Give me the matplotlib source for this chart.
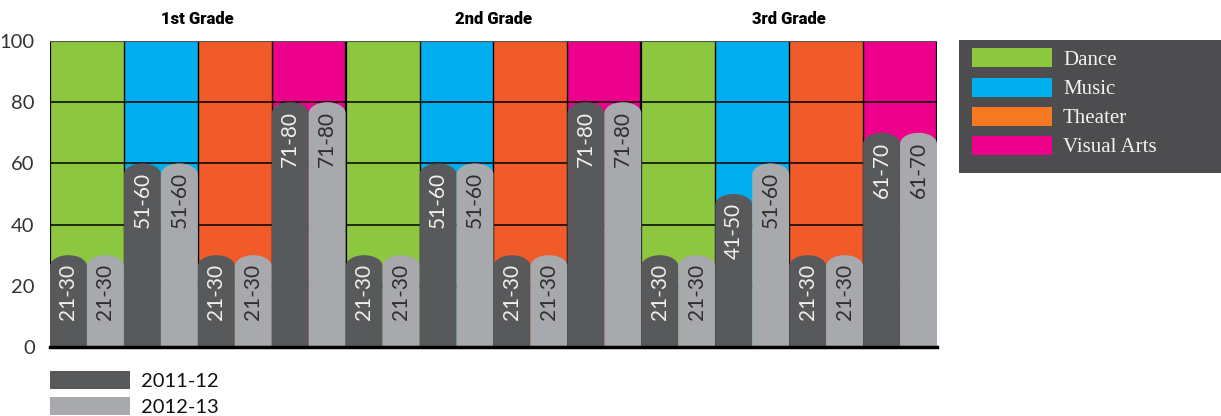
import numpy as np
import matplotlib.pyplot as plt
from matplotlib.path import Path
from matplotlib.patches import PathPatch, Rectangle

grades = ['1st Grade', '2nd Grade', '3rd Grade']
subjects = ['Dance', 'Music', 'Theater', 'Visual Arts']
years = ['2011-12', '2012-13']

# upper end of each range bucket, per grade, per subject
vals_1112 = [[30, 60, 30, 80],
             [30, 60, 30, 80],
             [30, 50, 30, 70]]
vals_1213 = [[30, 60, 30, 80],
             [30, 60, 30, 80],
             [30, 60, 30, 70]]

subj_colors = ['#8dc63f', '#00aeef', '#f15a29', '#ec008c']
legend_colors = ['#8dc63f', '#00aeef', '#f47920', '#ec008c']
bar_colors = ['#58595b', '#a7a9ac']
text_colors = ['#f0f0f0', '#2e2e2e']

K = 0.5523


def capped_bar(x0, w, h, ry):
    # bar with an elliptical rounded top
    x1 = x0 + w
    xc = x0 + w / 2
    rx = w / 2
    verts = [(x0, 0), (x0, h - ry),
             (x0, h - ry + K * ry), (xc - K * rx, h), (xc, h),
             (xc + K * rx, h), (x1, h - ry + K * ry), (x1, h - ry),
             (x1, 0), (x0, 0)]
    codes = [Path.MOVETO, Path.LINETO,
             Path.CURVE4, Path.CURVE4, Path.CURVE4,
             Path.CURVE4, Path.CURVE4, Path.CURVE4,
             Path.LINETO, Path.CLOSEPOLY]
    return Path(verts, codes)


fig = plt.figure(figsize=(12.21, 4.16), dpi=100)
ax = fig.add_axes([50 / 1221, 69 / 416, 887 / 1221, 306 / 416])

series = [vals_1112, vals_1213]
n_sub = len(subjects)
for g in range(len(grades)):
    for s in range(n_sub):
        left = g * n_sub * 2 + s * 2
        ax.add_patch(Rectangle((left, 0), 2, 100, color=subj_colors[s], lw=0, zorder=1))
        for k in range(2):
            v = series[k][g][s]
            p = PathPatch(capped_bar(left + k, 1, v, 3.6), facecolor=bar_colors[k],
                          edgecolor='none', zorder=3)
            ax.add_patch(p)
            ax.text(left + k + 0.5, v - 2.9, f'{v - 9}-{v}', rotation=90,
                    ha='center', va='top', fontsize=15, color=text_colors[k],
                    family='Lato', zorder=4)
    ax.text(g * n_sub * 2 + n_sub, 104.5, grades[g], ha='center', va='bottom',
            fontsize=12, fontweight='heavy', family='Roboto', color='black')

total = len(grades) * n_sub * 2
for y in [20, 40, 60, 80]:
    ax.plot([0, total], [y, y], color='black', lw=1.1, zorder=2)
for x in range(0, total + 1, 2):
    lw = 1.6 if x % 8 == 0 else 1.0
    ax.plot([x, x], [0, 100], color='black', lw=lw, zorder=2)
ax.plot([0, total], [100, 100], color='#555555', lw=0.8, zorder=2)

ax.set_xlim(0, total)
ax.set_ylim(0, 100)
ax.set_yticks([0, 20, 40, 60, 80, 100])
ax.set_xticks([])
ax.tick_params(axis='y', length=0, pad=11, labelsize=14.5, labelcolor='#333333')
for lab in ax.get_yticklabels():
    lab.set_family('Lato')
for sp in ['top', 'right', 'left']:
    ax.spines[sp].set_visible(False)
ax.spines['bottom'].set_linewidth(2.5)
ax.spines['bottom'].set_zorder(5)

# subject legend on dark panel
fig.patches.append(Rectangle((959 / 1221, 243 / 416), 262 / 1221, 133 / 416,
                             transform=fig.transFigure, color='#4d4d4f', lw=0))
for i, name in enumerate(subjects):
    yc = 1 - (58 + i * 29) / 416
    fig.patches.append(Rectangle((972 / 1221, yc - 9.5 / 416), 80 / 1221, 19 / 416,
                                 transform=fig.transFigure, color=legend_colors[i], lw=0))
    fig.text(1063 / 1221, yc, name, ha='left', va='center_baseline', fontsize=15,
             color='#f2f2f2', family='Liberation Serif')

# year legend below the chart
for i, yr in enumerate(years):
    yc = 1 - (380 + i * 26) / 416
    fig.patches.append(Rectangle((50 / 1221, yc - 9 / 416), 80 / 1221, 18 / 416,
                                 transform=fig.transFigure, color=bar_colors[i], lw=0))
    fig.text(141 / 1221, yc, yr, ha='left', va='center_baseline', fontsize=14.5,
             color='#111111', family='Lato')

fig.savefig('out.png', dpi=100)
